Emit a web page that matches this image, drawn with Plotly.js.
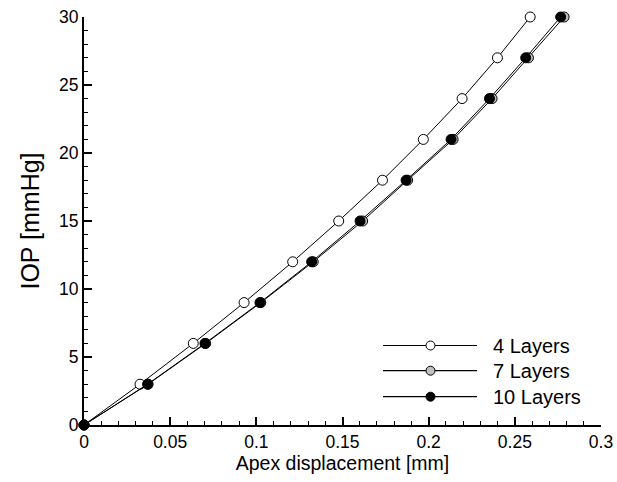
<!DOCTYPE html>
<html><head><meta charset="utf-8">
<script src="https://cdn.plot.ly/plotly-3.0.1.min.js"></script>
<style>html,body{margin:0;padding:0;background:#fff}#plot{width:617px;height:482px}</style>
</head><body><div id="plot"></div>
<script>
var iop = [0, 3, 6, 9, 12, 15, 18, 21, 24, 27, 30];
var disp4 = [0, 0.0325, 0.0634, 0.0929, 0.1211, 0.1478, 0.1732, 0.1969, 0.2194, 0.2399, 0.2589];
var disp7 = [0, 0.0372, 0.0706, 0.1026, 0.1330, 0.1617, 0.1878, 0.2142, 0.2368, 0.2579, 0.2786];
var disp10 = [0, 0.0369, 0.0702, 0.1021, 0.1321, 0.1602, 0.1869, 0.2130, 0.2353, 0.2563, 0.2766];
var names = ['4 Layers', '7 Layers', '10 Layers'];
var fills = ['#ffffff', '#c0c0c0', '#000000'];
var series = [disp4, disp7, disp10];

var FONT = 'Liberation Sans, Arial, sans-serif';
var traces = series.map(function (d, i) {
  return {
    x: d, y: iop, type: 'scatter', mode: 'lines+markers', name: names[i],
    line: {color: '#000', width: 1},
    marker: {symbol: 'circle', size: 10, color: fills[i], line: {color: '#000', width: 1}},
    cliponaxis: false, showlegend: false
  };
});

// custom legend (paper coords)
var L = 84, W = 517, B = 425, H = 408;
function px(x) { return (x - L) / W; }
function py(y) { return (B - y) / H; }
var shapes = [], annotations = [];
var rowY = [345.5, 370.7, 396.7];
names.forEach(function (n, i) {
  shapes.push({type: 'line', xref: 'paper', yref: 'paper', x0: px(383), x1: px(477), y0: py(rowY[i]), y1: py(rowY[i]), line: {color: '#000', width: 1.2}});
  shapes.push({type: 'circle', xref: 'paper', yref: 'paper', x0: px(426), x1: px(435), y0: py(rowY[i] + 4.5), y1: py(rowY[i] - 4.5), fillcolor: fills[i], line: {color: '#000', width: 1}});
  annotations.push({xref: 'paper', yref: 'paper', x: px(491), y: py(rowY[i]), xanchor: 'left', yanchor: 'middle', text: n, showarrow: false, font: {family: FONT, size: 20, color: '#000'}});
});

var layout = {
  width: 617, height: 482,
  margin: {l: 84, r: 16, t: 17, b: 57},
  paper_bgcolor: '#fff', plot_bgcolor: '#fff',
  font: {family: FONT, size: 17.5, color: '#000'},
  xaxis: {
    range: [0, 0.3], dtick: 0.05, tick0: 0, showgrid: false, zeroline: false,
    showline: true, linecolor: '#000', linewidth: 2, mirror: false,
    ticks: 'inside', ticklen: 8, tickwidth: 2, tickcolor: '#000',
    minor: {dtick: 0.01, ticks: 'inside', ticklen: 4, tickwidth: 1, tickcolor: '#000', showgrid: false},
    tickfont: {family: FONT, size: 17.5}, tickformat: '~g',
    title: {text: 'Apex displacement [mm]', font: {family: FONT, size: 19.5}, standoff: 4}
  },
  yaxis: {
    range: [0, 30], dtick: 5, tick0: 0, showgrid: false, zeroline: false,
    showline: true, linecolor: '#000', linewidth: 2, mirror: false,
    ticks: 'inside', ticklen: 8, tickwidth: 2, tickcolor: '#000',
    minor: {dtick: 1, ticks: 'inside', ticklen: 4, tickwidth: 1, tickcolor: '#000', showgrid: false},
    tickfont: {family: FONT, size: 17.5},
    title: {text: 'IOP [mmHg]', font: {family: FONT, size: 25}, standoff: 12}
  },
  shapes: shapes, annotations: annotations
};
Plotly.newPlot('plot', traces, layout, {displayModeBar: false, staticPlot: true});
</script></body></html>
